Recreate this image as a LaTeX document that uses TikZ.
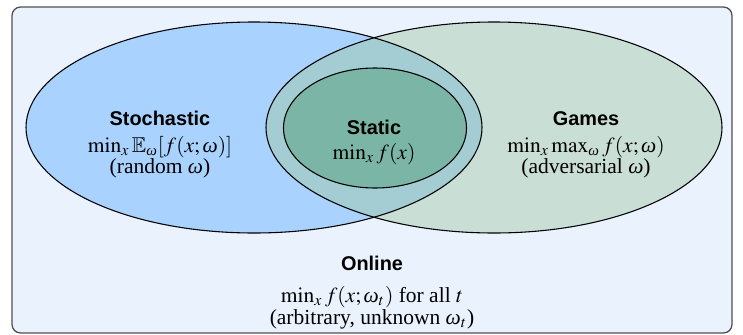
\documentclass[tikz,border=0pt]{standalone}
\usepackage{amssymb}
\usepackage{mathptmx}
\usepackage{fontspec}
\setmainfont{Liberation Serif}
\newfontfamily\labelfont{Liberation Sans}
\newcommand\omg{\mathchoice{\mbox{\itshape ω}}{\mbox{\itshape ω}}{\mbox{\fontsize{7}{8}\selectfont\itshape ω}}{\mbox{\fontsize{5}{6}\selectfont\itshape ω}}}
\definecolor{bgcol}{HTML}{EAF3FD}
\definecolor{bluecol}{HTML}{A9D3FE}
\definecolor{greencol}{HTML}{C9DED5}
\definecolor{lenscol}{HTML}{A3CCD3}
\definecolor{innercol}{HTML}{7BB5A5}
\definecolor{framecol}{HTML}{505050}
\tikzset{
  title/.style={font=\fontsize{9.25}{11}\selectfont\labelfont\bfseries, anchor=base, inner sep=0pt},
  body/.style={font=\fontsize{10}{12}\selectfont, anchor=base, inner sep=0pt},
  outline/.style={draw=black, line width=0.5pt}
}
\begin{document}
\begin{tikzpicture}[x=0.465pt,y=-0.465pt]
\useasboundingbox (0,0) rectangle (743,334);
% frame
\draw[framecol, fill=bgcol, line width=0.6pt, rounded corners=4pt] (12,7) rectangle (732,333);
% ellipses
\fill[bluecol] (254,127.5) ellipse [x radius=228, y radius=105.5];
\fill[greencol] (494,127.5) ellipse [x radius=228, y radius=105.5];
\begin{scope}
  \clip (254,127.5) ellipse [x radius=228, y radius=105.5];
  \fill[lenscol] (494,127.5) ellipse [x radius=228, y radius=105.5];
\end{scope}
\draw[outline] (254,127.5) ellipse [x radius=228, y radius=105.5];
\draw[outline] (494,127.5) ellipse [x radius=228, y radius=105.5];
\draw[outline, fill=innercol] (375,128) ellipse [x radius=91.5, y radius=60];
% texts
\node[title] (stt) at (160,125) {Stochastic};
\node[body] (stm) at (160,152) {$\min_x \mathbb{E}_{\omg}[f(x;\omg)]$};
\node[body] (str) at (160,173) {(random $\omg$)};
\node[title] (sat) at (374,134) {Static};
\node[body] (sam) at (374,159) {$\min_x f(x)$};
\node[title] (gat) at (586,125) {Games};
\node[body] (gam) at (586,152) {$\min_x \max_{\omg} f(x;\omg)$};
\node[body] (gar) at (586,173) {(adversarial $\omg$)};
\node[title] (ont) at (372,270) {Online};
\node[body] (onm) at (372,302) {$\min_x f(x;\omg_t)$ for all $t$};
\node[body] (onr) at (372,324) {(arbitrary, unknown $\omg_t$)};
\end{tikzpicture}
\end{document}
